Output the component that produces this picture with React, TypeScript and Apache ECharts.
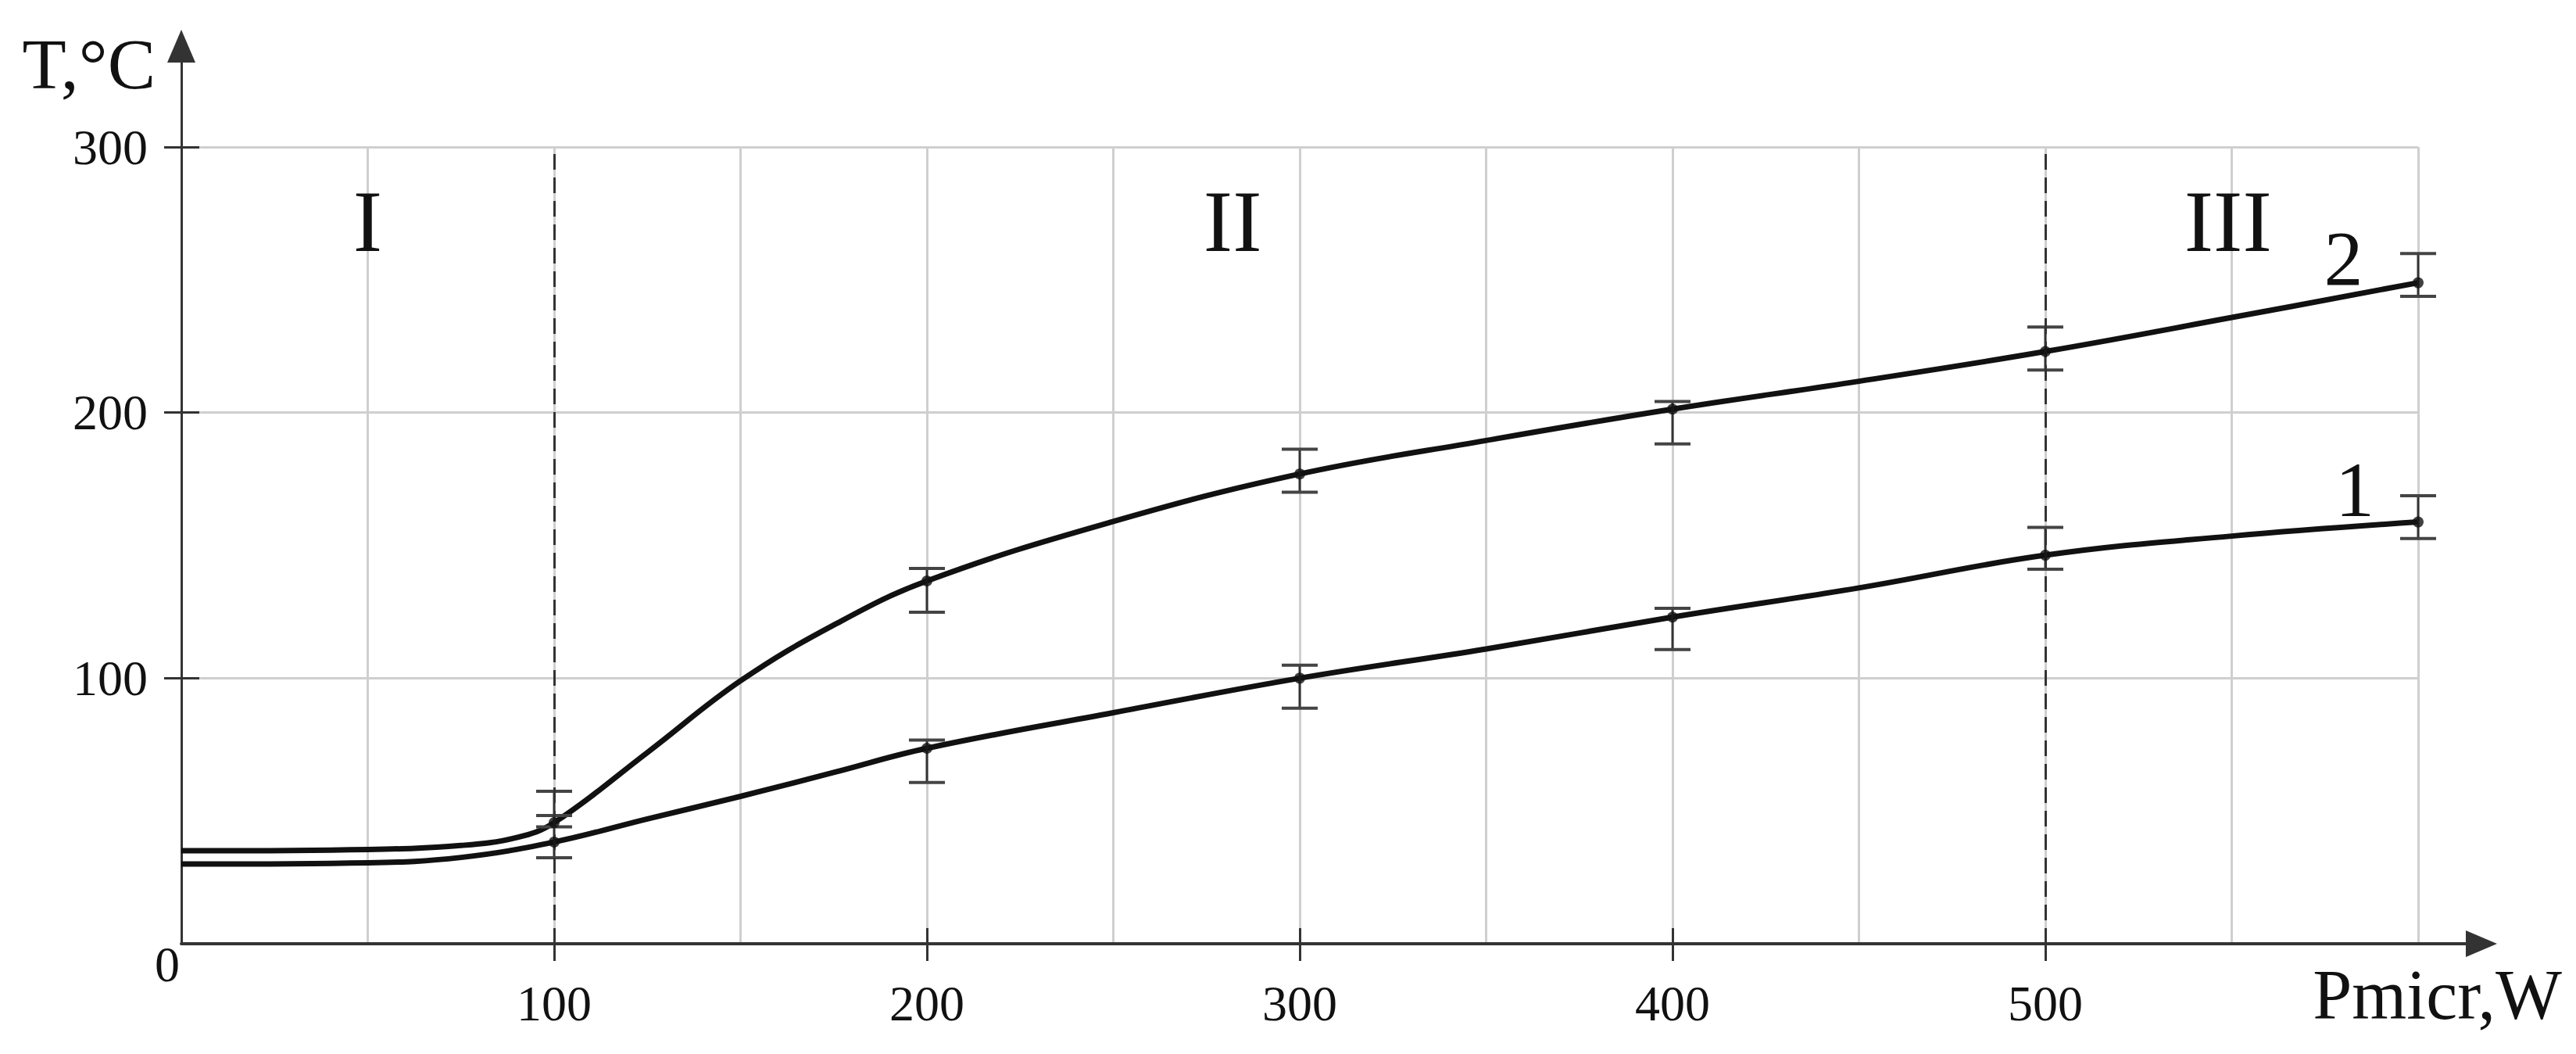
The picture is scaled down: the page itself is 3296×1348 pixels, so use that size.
import React, { useEffect, useRef } from "react";
import * as echarts from "echarts";

// ---- data ----
const curve1X = [0, 50, 75, 100, 125, 150, 175, 200, 250, 300, 350, 400, 450, 500, 550, 600];
const curve1Y = [30, 30.5, 32.5, 38.3, 47, 55.5, 64.5, 73.6, 87, 100, 111, 123, 134, 146.3, 153.5, 158.8];
const curve2X = [0, 50, 75, 90, 100, 125, 150, 175, 200, 250, 300, 350, 400, 450, 500, 550, 600];
const curve2Y = [35, 35.5, 37, 40, 45.6, 72, 99, 120, 136.6, 159, 176.9, 189.5, 201.3, 211.8, 223, 235.8, 248.9];

const pointX = [100, 200, 300, 400, 500, 600];
const series1Y = [38.3, 73.6, 100, 123, 146.3, 158.8];
const series1Lo = [32.4, 60.7, 88.7, 110.8, 141, 152.6];
const series1Hi = [48.3, 76.7, 104.9, 126.3, 156.8, 168.7];
const series2Y = [45.6, 136.6, 176.9, 201.3, 223, 248.9];
const series2Lo = [44, 124.8, 170, 188.2, 216, 243.8];
const series2Hi = [57.4, 141.3, 186.2, 204.2, 232.2, 259.9];

const xTickValues = [100, 200, 300, 400, 500];
const yTickValues = [100, 200, 300];
const regionBounds = [100, 500];

const zoneNames = ["I", "II", "III"];
const zoneX = [50, 282, 549];
const zoneY = [272, 272, 272];
const curveNames = ["1", "2"];
const curveNameX = [583, 580];
const curveNameY = [171, 258];

const FONT = "Liberation Serif";
const INK = "#111111";

export default function App() {
  const ref = useRef<HTMLDivElement>(null);
  useEffect(() => {
    document.body.style.margin = "0";
    const chart = echarts.init(ref.current!, undefined, { renderer: "svg" });

    const errData = (lo: number[], hi: number[]) => pointX.map((x, i) => [x, lo[i], hi[i]]);
    const renderErr = (params: any, api: any) => {
      const x = api.value(0);
      const pLo = api.coord([x, api.value(1)]);
      const pHi = api.coord([x, api.value(2)]);
      const hw = 23;
      return {
        type: "group",
        children: [
          { type: "line", shape: { x1: pLo[0], y1: pLo[1], x2: pHi[0], y2: pHi[1] }, style: { stroke: "#333", lineWidth: 3 } },
          { type: "line", shape: { x1: pLo[0] - hw, y1: pLo[1], x2: pLo[0] + hw, y2: pLo[1] }, style: { stroke: "#444", lineWidth: 4 } },
          { type: "line", shape: { x1: pHi[0] - hw, y1: pHi[1], x2: pHi[0] + hw, y2: pHi[1] }, style: { stroke: "#444", lineWidth: 4 } },
        ],
      };
    };

    const annotations = [
      ...zoneNames.map((n, i) => ({ name: n, value: [zoneX[i], zoneY[i]], label: { fontSize: 112 } })),
      ...curveNames.map((n, i) => ({ name: n, value: [curveNameX[i], curveNameY[i]], label: { fontSize: 100 } })),
    ];

    const option: any = {
      animation: false,
      backgroundColor: "#ffffff",
      textStyle: { fontFamily: FONT, color: INK },
      grid: [
        { left: 232, right: 202, top: 188, bottom: 141, containLabel: false, outerBoundsMode: "none" },
        { left: 232, right: 121, top: 59, bottom: 141, containLabel: false, outerBoundsMode: "none" },
      ],
      xAxis: [
        {
          type: "value",
          gridIndex: 0,
          min: 0,
          max: 600,
          interval: 50,
          name: "Pmicr,W",
          nameLocation: "end",
          nameGap: 184,
          nameTextStyle: { fontFamily: FONT, fontSize: 90, color: INK, align: "right", verticalAlign: "top", padding: [20, 0, 0, 0] },
          axisLine: { show: false },
          axisTick: { show: true, customValues: xTickValues, length: 22, lineStyle: { color: "#333", width: 3 } },
          axisLabel: { customValues: xTickValues, fontFamily: FONT, fontSize: 64, color: INK, margin: 44 },
          splitLine: { show: false },
        },
        {
          type: "value",
          gridIndex: 0,
          position: "bottom",
          min: 0,
          max: 600,
          interval: 50,
          axisLine: { show: false },
          axisTick: { show: true, inside: true, customValues: xTickValues, length: 20, lineStyle: { color: "#333", width: 3 } },
          axisLabel: { show: false },
          splitLine: { show: false },
        },
        {
          type: "value",
          gridIndex: 0,
          position: "bottom",
          min: 0,
          max: 600,
          interval: 50,
          axisLine: { show: false },
          axisTick: { show: false },
          axisLabel: { show: false },
          splitLine: { show: true, lineStyle: { color: "#cfcfcf", width: 3 } },
        },
        {
          type: "value",
          gridIndex: 1,
          min: 0,
          max: 1,
          axisLine: { show: true, symbol: ["none", "triangle"], symbolSize: [34, 40], lineStyle: { color: "#333", width: 4 } },
          axisTick: { show: false },
          axisLabel: { show: false },
          splitLine: { show: false },
        },
      ],
      yAxis: [
        {
          type: "value",
          gridIndex: 0,
          min: 0,
          max: 300,
          interval: 100,
          name: "T,°C",
          nameLocation: "end",
          nameGap: 106,
          nameTextStyle: { fontFamily: FONT, fontSize: 92, color: INK, align: "right", verticalAlign: "middle", padding: [0, 33, 0, 0] },
          axisLine: { show: false },
          axisTick: { show: true, customValues: yTickValues, length: 22, lineStyle: { color: "#333", width: 3 } },
          axisLabel: { customValues: yTickValues, fontFamily: FONT, fontSize: 64, color: INK, margin: 43 },
          splitLine: { show: true, lineStyle: { color: "#cfcfcf", width: 3 } },
        },
        {
          type: "value",
          gridIndex: 0,
          position: "left",
          min: 0,
          max: 300,
          interval: 100,
          axisLine: { show: false },
          axisTick: { show: true, inside: true, customValues: yTickValues, length: 23, lineStyle: { color: "#333", width: 3 } },
          axisLabel: {
            customValues: [0],
            fontFamily: FONT,
            fontSize: 64,
            color: INK,
            margin: 2,
            formatter: (v: number) => "{z|" + v + "}",
            rich: { z: { fontFamily: FONT, fontSize: 64, color: INK, padding: [52, 0, 0, 0] } },
          },
          splitLine: { show: false },
        },
        {
          type: "value",
          gridIndex: 1,
          min: 0,
          max: 1,
          axisLine: { show: true, symbol: ["none", "triangle"], symbolSize: [36, 42], lineStyle: { color: "#333", width: 3 } },
          axisTick: { show: false },
          axisLabel: { show: false },
          splitLine: { show: false },
        },
      ],
      series: [
        {
          name: "curve1",
          type: "line",
          xAxisIndex: 0,
          yAxisIndex: 0,
          data: curve1X.map((x, i) => [x, curve1Y[i]]),
          smooth: 0.4,
          showSymbol: false,
          lineStyle: { color: "#111", width: 7 },
          z: 3,
          markLine: {
            silent: true,
            symbol: ["none", "none"],
            label: { show: false },
            lineStyle: { color: "#333", width: 3, type: [20, 10] },
            data: regionBounds.map((b) => ({ xAxis: b })),
          },
        },
        {
          name: "curve2",
          type: "line",
          xAxisIndex: 0,
          yAxisIndex: 0,
          data: curve2X.map((x, i) => [x, curve2Y[i]]),
          smooth: 0.4,
          showSymbol: false,
          lineStyle: { color: "#111", width: 7 },
          z: 3,
        },
        {
          name: "err1",
          type: "custom",
          xAxisIndex: 0,
          yAxisIndex: 0,
          data: errData(series1Lo, series1Hi),
          renderItem: renderErr,
          z: 4,
        },
        {
          name: "err2",
          type: "custom",
          xAxisIndex: 0,
          yAxisIndex: 0,
          data: errData(series2Lo, series2Hi),
          renderItem: renderErr,
          z: 4,
        },
        {
          name: "points1",
          type: "scatter",
          xAxisIndex: 0,
          yAxisIndex: 0,
          data: pointX.map((x, i) => [x, series1Y[i]]),
          symbol: "circle",
          symbolSize: 14,
          itemStyle: { color: "#111" },
          z: 5,
        },
        {
          name: "points2",
          type: "scatter",
          xAxisIndex: 0,
          yAxisIndex: 0,
          data: pointX.map((x, i) => [x, series2Y[i]]),
          symbol: "circle",
          symbolSize: 14,
          itemStyle: { color: "#111" },
          z: 5,
        },
        {
          name: "annotations",
          type: "scatter",
          xAxisIndex: 0,
          yAxisIndex: 0,
          data: annotations,
          symbolSize: 0,
          itemStyle: { color: "#000", opacity: 1 },
          silent: true,
          label: {
            show: true,
            position: "inside",
            formatter: (p: any) => p.name,
            fontFamily: FONT,
            color: "#111",
            textBorderWidth: 0,
          },
          z: 6,
        },
      ],
    };
    chart.setOption(option);
    return () => chart.dispose();
  }, []);
  return <div ref={ref} style={{ width: 3296, height: 1348 }} />;
}
